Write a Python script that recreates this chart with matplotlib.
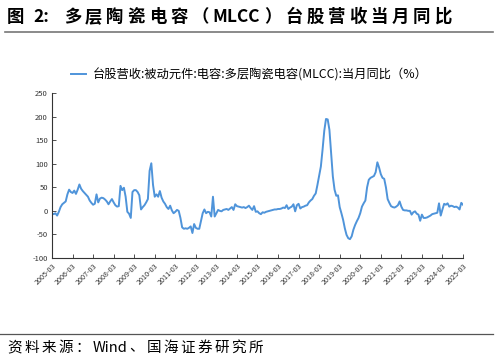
import re
import numpy as np
import matplotlib
matplotlib.use("Agg")
import matplotlib.pyplot as plt
from matplotlib.lines import Line2D

plt.rcParams['font.family'] = ['Noto Sans CJK SC', 'DejaVu Sans']

# monthly YoY (%), 2005-03 .. 2025-03
yoy = [
    -6, -7, -5, -10, -2, 8, 14, 17, 20, 35, 45, 40,
    38, 43, 36, 45, 56, 47, 42, 38, 34, 30, 22, 17,
    13, 15, 35, 18, 26, 28, 27, 24, 20, 14, 20, 25,
    18, 12, 9, 10, 53, 44, 49, 30, -2, -6, -15, 40,
    44, 44, 40, 33, 3, 8, 12, 18, 25, 85, 101, 55,
    30, 35, 30, 42, 28, 20, 15, 8, 4, 11, 1, -5,
    -2, 2, 0, -15, -35, -38, -37, -38, -36, -33, -47, -28,
    -36, -38, -38, -22, -5, 3, -5, -2, -3, -12, 30, -12,
    -5, 2, 0, -1, 2, 3, 4, 2, 5, 8, 2, 14,
    10, 9, 8, 7, 8, 6, 8, 11, 6, 2, 10, -2,
    -1, -5, -7, -3, -4, -2, -1, 0, 1, 2, 3, 3,
    4, 4, 5, 7, 6, 12, 4, 7, 9, 14, -1, 12,
    15, 5, 8, 9, 11, 12, 18, 22, 25, 32, 37, 55,
    75, 94, 130, 170, 195, 194, 172, 123, 73, 45, 32, 33,
    8, -5, -19, -37, -51, -58, -60, -54, -40, -30, -22, -15,
    -5, 9, 16, 22, 50, 66, 70, 72, 74, 82, 103, 92,
    78, 70, 68, 50, 25, 17, 10, 8, 7, 9, 12, 20,
    9, 2, 1, 1, 0, 0, -8, -3, -1, -6, -8, -21,
    -8, -15, -15, -14, -12, -10, -7, -6, -5, -4, 16, -10,
    3, 15, 13, 16, 9, 11, 10, 8, 9, 7, 3, 17,
    13,
]
years = list(range(2005, 2026))
xlabels = [f"{y}-03" for y in years]
yticks = [-100, -50, 0, 50, 100, 150, 200, 250]

W, H = 498, 362
fig = plt.figure(figsize=(W / 100, H / 100), dpi=100)
ax = fig.add_axes([0.1044, 0.2873, 0.8253, 0.4557])

blue = '#4f94da'
x = np.arange(len(yoy))
ax.plot(x, yoy, color=blue, lw=1.4)

ax.set_xlim(0, 240)
ax.set_ylim(-100, 250)
ax.set_xticks(np.arange(0, 241, 12))
ax.set_xticklabels(xlabels, rotation=45, ha='right', rotation_mode='anchor', fontsize=5.2)
ax.set_yticks(yticks)
ax.set_yticklabels([str(v) for v in yticks], fontsize=5.5)
ax.tick_params(direction='in', length=3, width=0.6, colors='#333333', pad=3)
for s in ['top', 'right']:
    ax.spines[s].set_visible(False)
for s in ['left', 'bottom']:
    ax.spines[s].set_linewidth(0.8)
    ax.spines[s].set_color('#333333')

handle = Line2D([], [], color=blue, lw=1.4)
fig.legend([handle], ['台股营收:被动元件:电容:多层陶瓷电容(MLCC):当月同比（%）'],
           loc='center', bbox_to_anchor=(0.5, 0.793), frameon=False,
           fontsize=8.8, handlelength=1.3, handletextpad=0.5)


def tracked(x_px, y, s, size, gap, **kw):
    # CJK chars spaced out one by one, latin runs kept together
    r = fig.canvas.get_renderer()
    for tok in re.findall(r'[A-Za-z0-9:]+| |.', s):
        if tok == ' ':
            x_px += size * 1.389 * 0.3
            continue
        t = fig.text(x_px / W, y, tok, fontsize=size, va='center', ha='left', **kw)
        x_px += t.get_window_extent(r).width + gap


tracked(7, 0.953, '图 2:  多层陶瓷电容（MLCC）台股营收当月同比', 12.5, 3.9, fontweight='bold')
fig.add_artist(Line2D([0.01, 0.99], [0.912, 0.912], color='#777777', lw=1.2))
fig.add_artist(Line2D([0.0, 0.99], [0.077, 0.077], color='#555555', lw=0.9))
tracked(7, 0.04, '资料来源：Wind、国海证券研究所', 10.5, 2.4)

fig.savefig('out.png', dpi=100)
